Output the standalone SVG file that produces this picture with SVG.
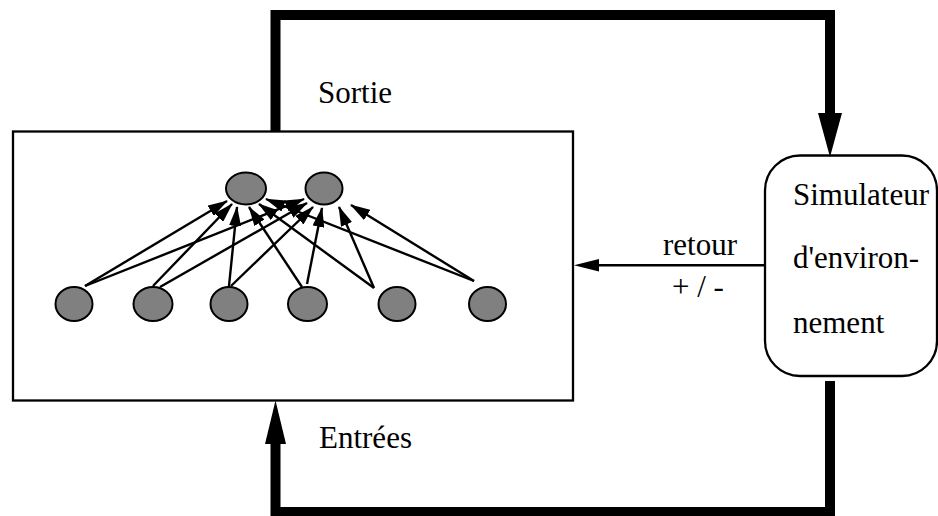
<svg xmlns="http://www.w3.org/2000/svg" width="938" height="516" viewBox="0 0 938 516">
  <style>
    .box { fill: #ffffff; stroke: #000000; stroke-width: 2.3; }
    .neuron { fill: #808080; stroke: #000000; stroke-width: 2; }
    .link { stroke: #000000; stroke-width: 2.4; fill: none; marker-end: url(#ah); }
    .thick { stroke: #000000; stroke-width: 10; fill: none; stroke-linejoin: miter; }
    .head { fill: #000000; stroke: none; }
    .label { font-family: "Liberation Serif", "Times New Roman", serif; font-size: 31px; fill: #000000; }
  </style>
  <defs>
    <marker id="ah" markerUnits="userSpaceOnUse" markerWidth="20" markerHeight="12" viewBox="0 0 20 12" refX="19" refY="6" orient="auto">
      <path d="M0,0 L20,6 L0,12 z" fill="#000000"/>
    </marker>
  </defs>

  <g id="reseau">
    <rect class="box" x="13" y="131.5" width="560" height="269"/>
  </g>

  <g id="simulateur">
    <rect class="box" x="765" y="155.5" width="172" height="220.5" rx="35" ry="35"/>
    <text class="label" x="793" y="205">Simulateur</text>
    <text class="label" x="793" y="268">d'environ-</text>
    <text class="label" x="793" y="333">nement</text>
  </g>

  <g id="connectors">
    <path class="thick" d="M275.5,132 V15 H830 V116"/>
    <polygon class="head" points="818,113 842,113 830,157"/>
    <path class="thick" d="M830,381 V512 H275.5 V442"/>
    <polygon class="head" points="265,444 286,444 275.5,400.5"/>
    <line x1="764" y1="265.3" x2="597" y2="265.3" stroke="#000000" stroke-width="2.5"/>
    <polygon class="head" points="599,259 599,271.6 574,265.3"/>

    <line class="link" x1="85" y1="286" x2="227" y2="201"/>
    <line class="link" x1="153" y1="286" x2="232" y2="204"/>
    <line class="link" x1="229" y1="286" x2="237" y2="207"/>
    <line class="link" x1="302" y1="287" x2="249" y2="207"/>
    <line class="link" x1="374" y1="288" x2="259" y2="204"/>
    <line class="link" x1="474" y1="281" x2="266" y2="199"/>
    <line class="link" x1="85" y1="286" x2="304" y2="199"/>
    <line class="link" x1="160" y1="287" x2="307" y2="203"/>
    <line class="link" x1="231" y1="286" x2="313" y2="207"/>
    <line class="link" x1="307" y1="284" x2="322" y2="208"/>
    <line class="link" x1="374" y1="288" x2="339" y2="207"/>
    <line class="link" x1="474" y1="281" x2="351" y2="205"/>
  </g>

  <g id="neurones">
    <ellipse id="sortie1" class="neuron" cx="246" cy="188.5" rx="20" ry="16"/>
    <ellipse id="sortie2" class="neuron" cx="324" cy="188.5" rx="18.5" ry="16"/>
    <ellipse id="entree1" class="neuron" cx="74" cy="304" rx="18.5" ry="17"/>
    <ellipse id="entree2" class="neuron" cx="153" cy="304" rx="19.5" ry="17"/>
    <ellipse id="entree3" class="neuron" cx="229" cy="304" rx="18.5" ry="17"/>
    <ellipse id="entree4" class="neuron" cx="307.5" cy="304" rx="19.5" ry="17"/>
    <ellipse id="entree5" class="neuron" cx="397" cy="304" rx="18.5" ry="17"/>
    <ellipse id="entree6" class="neuron" cx="487.5" cy="304" rx="18.5" ry="17"/>
  </g>

  <g id="labels">
    <text class="label" x="318" y="103">Sortie</text>
    <text class="label" x="319" y="448">Entrées</text>
    <text class="label" x="663" y="255">retour</text>
    <text class="label" x="672" y="297">+ / -</text>
  </g>
</svg>
